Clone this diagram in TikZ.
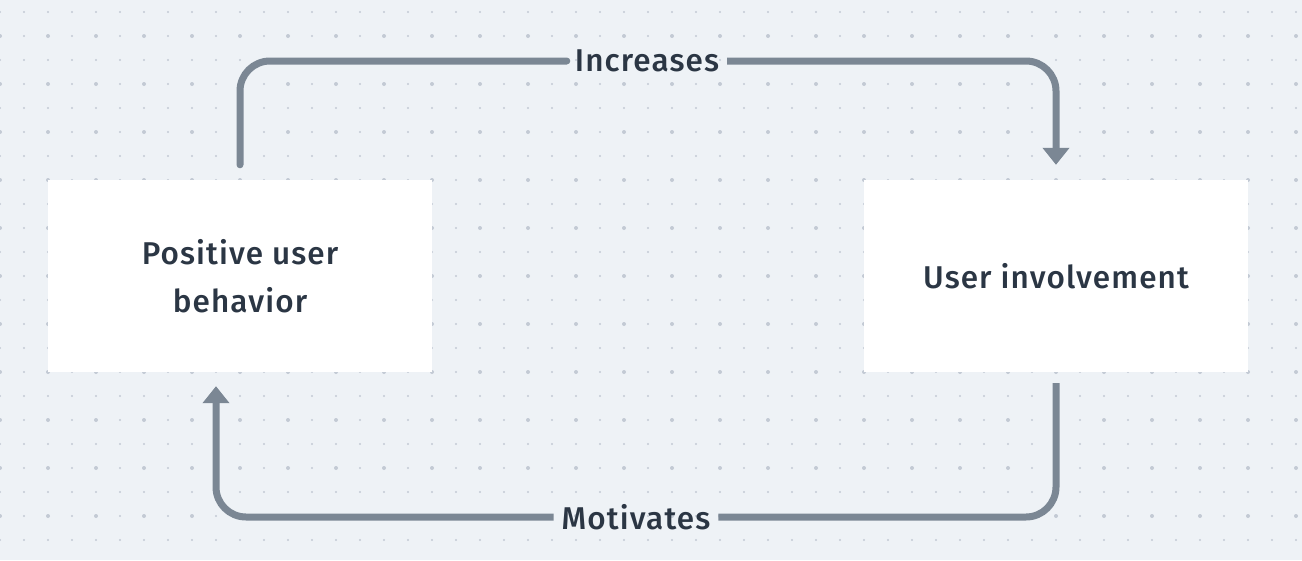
\documentclass[tikz,border=0pt]{standalone}
\usepackage{fontspec}
\setmainfont{Fira Sans}[UprightFont=* Medium, LetterSpace=3.5]
\usetikzlibrary{arrows.meta}
\definecolor{bgc}{HTML}{EEF2F6}
\definecolor{dotc}{HTML}{C3CAD4}
\definecolor{linec}{HTML}{7B8794}
\definecolor{txtc}{HTML}{2B3644}
\tikzset{
  box/.style={fill=white, minimum width=384pt, minimum height=192pt, inner sep=0pt, align=center, text=txtc, font=\fontsize{31.5}{48}\selectfont},
  lbl/.style={text=txtc, inner sep=8pt, font=\fontsize{31.5}{36}\selectfont},
  conn/.style={draw=linec, line width=7pt, rounded corners=30pt},
  tip/.style={-{Triangle[width=26pt,length=17pt]}}
}
\begin{document}
\begin{tikzpicture}[x=1pt,y=-1pt]
\fill[bgc] (0,0) rectangle (1302,560);
\useasboundingbox (0,0) rectangle (1302,560);
\foreach \i in {0,...,54}{
  \foreach \j in {0,...,23}{
    \fill[dotc] (\i*24,12+\j*24) circle (1.1pt);
  }
}
\foreach \i in {0,...,27}{
  \foreach \j in {0,...,11}{
    \fill[dotc] (\i*48,36+\j*48) circle (2pt);
  }
}
\node[box] (L) at (240,276) {Positive user\\behavior};
\node[box] (R) at (1056,276) {User involvement};
\node[lbl] (inc) at (647,61) {Increases};
\node[lbl] (mot) at (636,517) {Motivates};
\coordinate (ls) at ([yshift=15pt]L.north);
\coordinate (re) at ([yshift=15pt]R.north);
\coordinate (rs) at ([yshift=-11pt]R.south);
\coordinate (le) at ([xshift=-24pt,yshift=-14pt]L.south);
\draw[conn, line cap=round] (ls) -- (ls |- inc) -- (inc.west);
\draw[conn, tip] (inc.east) -- (re |- inc) -- (re);
\draw[conn] (rs) -- (rs |- mot) -- (mot.east);
\draw[conn, tip] (mot.west) -- (le |- mot) -- (le);
\end{tikzpicture}
\end{document}
